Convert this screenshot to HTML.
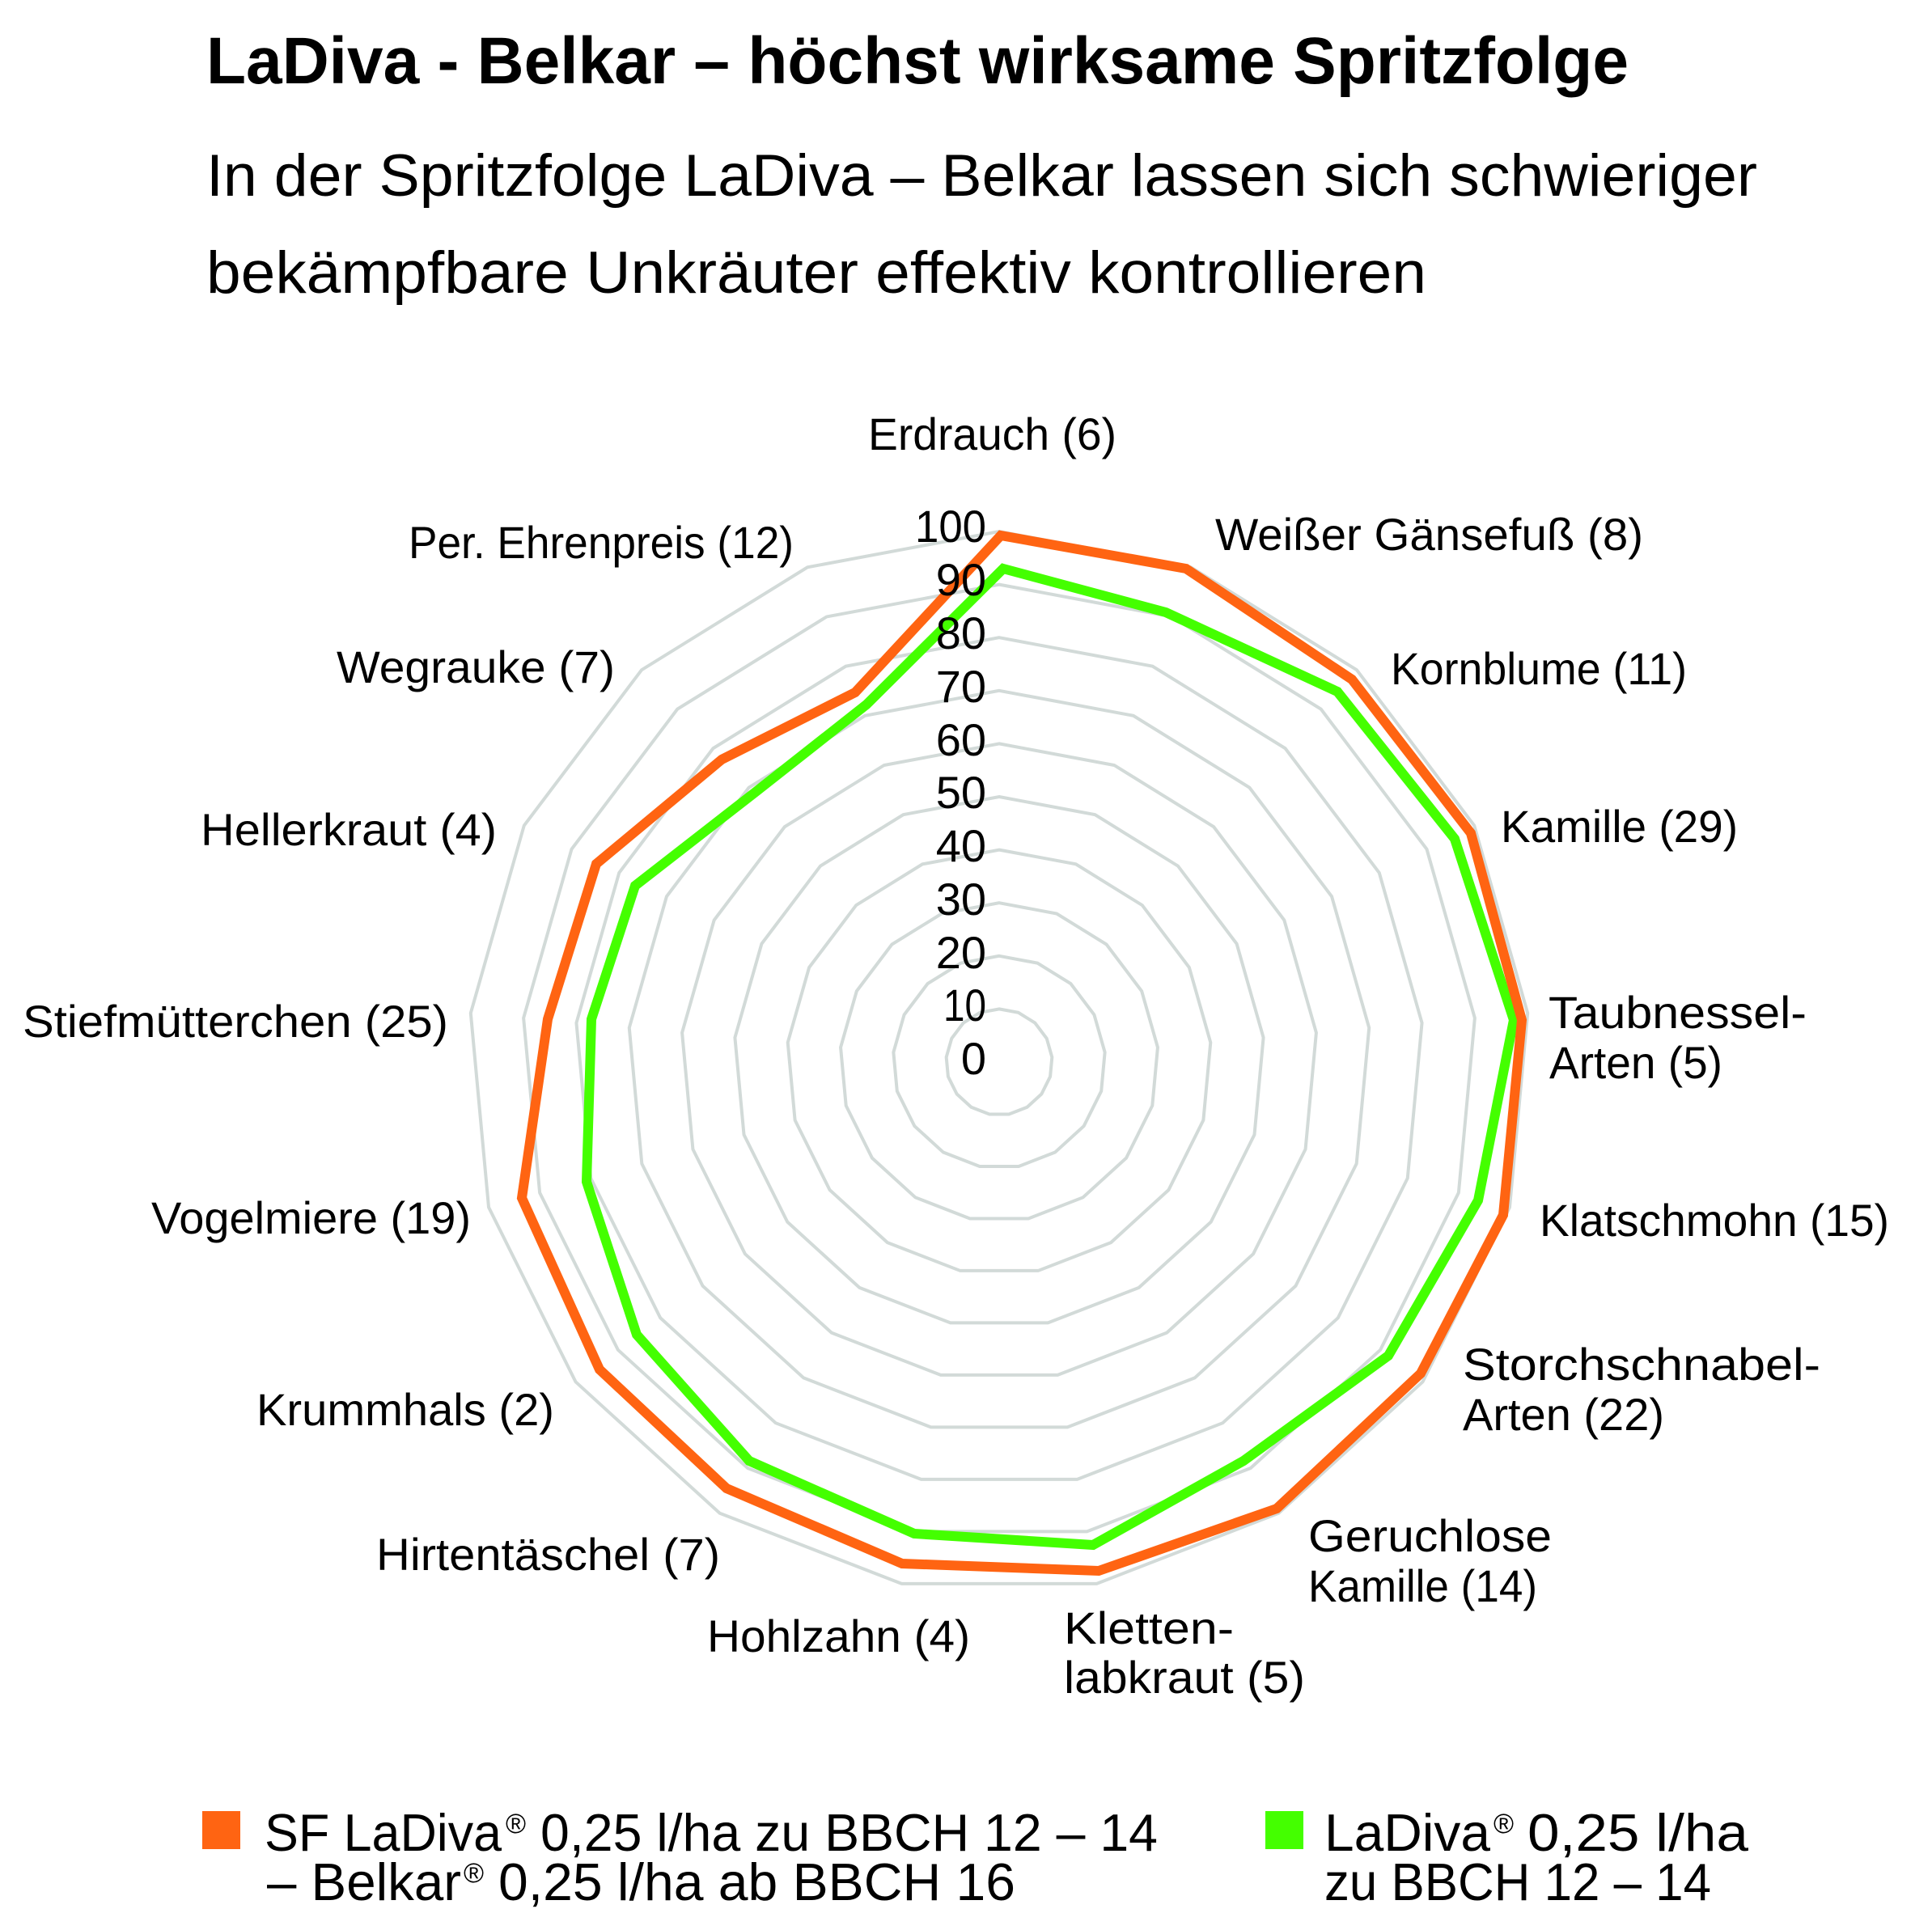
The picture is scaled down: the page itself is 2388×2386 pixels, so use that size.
<!DOCTYPE html>
<html>
<head>
<meta charset="utf-8">
<style>
  html, body { margin: 0; padding: 0; background: #ffffff; }
  svg { display: block; }
  text { font-family: "Liberation Sans", "DejaVu Sans", sans-serif; fill: #000; }
</style>
</head>
<body>
<svg width="2388" height="2386" viewBox="0 0 2388 2386" xmlns="http://www.w3.org/2000/svg">
  <rect x="0" y="0" width="2388" height="2386" fill="#ffffff"/>

  <!-- Title -->
  <text x="255" y="103" font-size="82" font-weight="bold" textLength="1758" lengthAdjust="spacingAndGlyphs">LaDiva - Belkar – höchst wirksame Spritzfolge</text>
  <!-- Subtitle -->
  <text x="255" y="242" font-size="73" textLength="1917" lengthAdjust="spacingAndGlyphs">In der Spritzfolge LaDiva – Belkar lassen sich schwieriger</text>
  <text x="255" y="362" font-size="73" textLength="1508" lengthAdjust="spacingAndGlyphs">bekämpfbare Unkräuter effektiv kontrollieren</text>

  <!-- Grid rings -->
  <defs>
    <polygon id="ring" points="0,-1 0.36124,-0.93247 0.67370,-0.73901 0.89516,-0.44573 0.99573,-0.09227 0.96183,0.27366 0.79802,0.60263 0.52643,0.85022 0.18375,0.98297 -0.18375,0.98297 -0.52643,0.85022 -0.79802,0.60263 -0.96183,0.27366 -0.99573,-0.09227 -0.89516,-0.44573 -0.67370,-0.73901 -0.36124,-0.93247"/>
  </defs>
  <g fill="none" stroke="#d2dad8" stroke-linejoin="miter">
    <use href="#ring" transform="translate(1235,1313) scale(65.6)" stroke-width="0.060976"/>
    <use href="#ring" transform="translate(1235,1313) scale(131.2)" stroke-width="0.030488"/>
    <use href="#ring" transform="translate(1235,1313) scale(196.8)" stroke-width="0.020325"/>
    <use href="#ring" transform="translate(1235,1313) scale(262.4)" stroke-width="0.015244"/>
    <use href="#ring" transform="translate(1235,1313) scale(328)" stroke-width="0.012195"/>
    <use href="#ring" transform="translate(1235,1313) scale(393.6)" stroke-width="0.010163"/>
    <use href="#ring" transform="translate(1235,1313) scale(459.2)" stroke-width="0.008711"/>
    <use href="#ring" transform="translate(1235,1313) scale(524.8)" stroke-width="0.007622"/>
    <use href="#ring" transform="translate(1235,1313) scale(590.4)" stroke-width="0.006775"/>
    <use href="#ring" transform="translate(1235,1313) scale(656)" stroke-width="0.006098"/>
  </g>

  <!-- Series -->
  <polygon fill="none" stroke="#44ff00" stroke-width="12" stroke-linejoin="miter"
    points="1240,703 1441,757 1653,855 1798,1037 1871,1261 1827,1484 1716,1676 1537,1806 1351,1910 1130,1896 926,1806 787,1650 725,1461 731,1260 785,1095 934,979 1071,871"/>
  <polygon fill="none" stroke="#ff6412" stroke-width="12" stroke-linejoin="miter"
    points="1237,662 1466,703 1671,840 1818,1030 1881,1261 1858,1502 1756,1698 1578,1865 1358,1942 1115,1933 898,1840 741,1693 645,1481 677,1260 737,1068 892,939 1057,856"/>

  <!-- Axis tick labels -->
  <g font-size="56" text-anchor="end">
    <text x="1219" y="1328">0</text>
    <text x="1219" y="1262" textLength="53" lengthAdjust="spacingAndGlyphs">10</text>
    <text x="1219" y="1197">20</text>
    <text x="1219" y="1131">30</text>
    <text x="1219" y="1065">40</text>
    <text x="1219" y="999">50</text>
    <text x="1219" y="934">60</text>
    <text x="1219" y="868">70</text>
    <text x="1219" y="802">80</text>
    <text x="1219" y="736">90</text>
    <text x="1219" y="670" textLength="88" lengthAdjust="spacingAndGlyphs">100</text>
  </g>

  <!-- Category labels -->
  <g font-size="56">
    <text x="1073" y="556" textLength="307" lengthAdjust="spacingAndGlyphs">Erdrauch (6)</text>
    <text x="1502" y="680" textLength="529" lengthAdjust="spacingAndGlyphs">Weißer Gänsefuß (8)</text>
    <text x="1719" y="846" textLength="366" lengthAdjust="spacingAndGlyphs">Kornblume (11)</text>
    <text x="1855" y="1041" textLength="293" lengthAdjust="spacingAndGlyphs">Kamille (29)</text>
    <text x="1914" y="1271" textLength="319" lengthAdjust="spacingAndGlyphs">Taubnessel-</text>
    <text x="1915" y="1333" textLength="214" lengthAdjust="spacingAndGlyphs">Arten (5)</text>
    <text x="1903" y="1528" textLength="432" lengthAdjust="spacingAndGlyphs">Klatschmohn (15)</text>
    <text x="1808" y="1706" textLength="442" lengthAdjust="spacingAndGlyphs">Storchschnabel-</text>
    <text x="1808" y="1768" textLength="249" lengthAdjust="spacingAndGlyphs">Arten (22)</text>
    <text x="1617" y="1918" textLength="301" lengthAdjust="spacingAndGlyphs">Geruchlose</text>
    <text x="1617" y="1980" textLength="283" lengthAdjust="spacingAndGlyphs">Kamille (14)</text>
    <text x="1315" y="2032" textLength="210" lengthAdjust="spacingAndGlyphs">Kletten-</text>
    <text x="1315" y="2093" textLength="298" lengthAdjust="spacingAndGlyphs">labkraut (5)</text>
    <text x="874" y="2042" textLength="325" lengthAdjust="spacingAndGlyphs">Hohlzahn (4)</text>
    <text x="465" y="1941" textLength="425" lengthAdjust="spacingAndGlyphs">Hirtentäschel (7)</text>
    <text x="317" y="1762" textLength="368" lengthAdjust="spacingAndGlyphs">Krummhals (2)</text>
    <text x="187" y="1525" textLength="395" lengthAdjust="spacingAndGlyphs">Vogelmiere (19)</text>
    <text x="28" y="1282" textLength="526" lengthAdjust="spacingAndGlyphs">Stiefmütterchen (25)</text>
    <text x="248" y="1045" textLength="366" lengthAdjust="spacingAndGlyphs">Hellerkraut (4)</text>
    <text x="416" y="844" textLength="344" lengthAdjust="spacingAndGlyphs">Wegrauke (7)</text>
    <text x="505" y="690" textLength="476" lengthAdjust="spacingAndGlyphs">Per. Ehrenpreis (12)</text>
  </g>

  <!-- Legend -->
  <rect x="250" y="2239" width="47" height="47" fill="#ff6412"/>
  <g font-size="65">
    <text x="327" y="2288" textLength="293" lengthAdjust="spacingAndGlyphs">SF LaDiva</text>
    <text x="625" y="2266" font-size="34">®</text>
    <text x="668" y="2288" textLength="763" lengthAdjust="spacingAndGlyphs">0,25 l/ha zu BBCH 12 – 14</text>
    <text x="330" y="2349" textLength="240" lengthAdjust="spacingAndGlyphs">– Belkar</text>
    <text x="573" y="2327" font-size="34">®</text>
    <text x="616" y="2349" textLength="639" lengthAdjust="spacingAndGlyphs">0,25 l/ha ab BBCH 16</text>
  </g>

  <rect x="1564" y="2239" width="47" height="47" fill="#44ff00"/>
  <g font-size="65">
    <text x="1637" y="2288" textLength="205" lengthAdjust="spacingAndGlyphs">LaDiva</text>
    <text x="1846" y="2266" font-size="34">®</text>
    <text x="1888" y="2288" textLength="273" lengthAdjust="spacingAndGlyphs">0,25 l/ha</text>
    <text x="1637" y="2349" textLength="478" lengthAdjust="spacingAndGlyphs">zu BBCH 12 – 14</text>
  </g>
</svg>
</body>
</html>
